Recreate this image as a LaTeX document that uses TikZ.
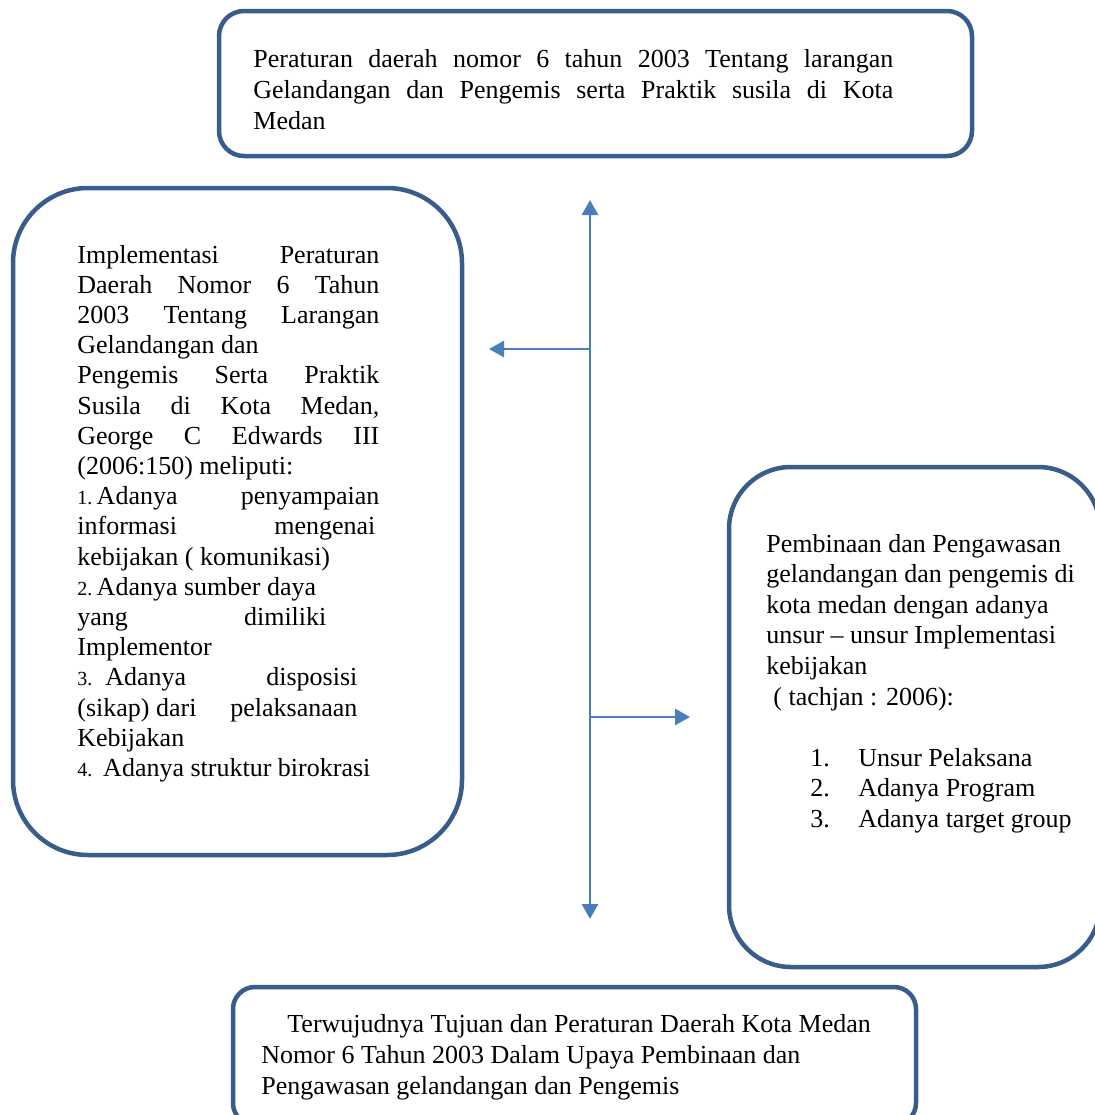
\documentclass[tikz,border=0pt]{standalone}
\usepackage{fontspec}
\setmainfont{Liberation Serif}
\usetikzlibrary{arrows.meta}
\definecolor{boxBlue}{HTML}{385D8A}
\definecolor{arrowBlue}{HTML}{4A7EBB}
\newcommand{\rataLine}[2]{\makebox[#1][s]{#2}}
\newcommand{\angka}[1]{{\fontsize{10}{12}\selectfont #1}}

\begin{document}
\begin{tikzpicture}[x = 0.5pt, y = -0.5pt, font = \fontsize{13}{15.3}\selectfont]
\tikzstyle{boxStyle} = [draw = boxBlue, line width = 2.25pt, shape = rectangle, inner sep = 0pt]
\tikzstyle{textStyle} = [inner sep = 0pt, anchor = base west, execute at begin node = {\spaceskip=0pt\xspaceskip=0pt\relax}]
\tikzstyle{arrowStyle} = [draw = arrowBlue, line width = 1.35pt, arrows = {-Triangle[length = 7.5pt, width = 8pt]}]
\useasboundingbox (0,0) rectangle (1094,1115);
% kotak
\node[boxStyle, rounded corners = 12.5pt, minimum width = 376.5pt, minimum height = 72.5pt] (perda) at (595.5,83.5) {};
\node[boxStyle, rounded corners = 37.5pt, minimum width = 224.5pt, minimum height = 333.5pt] (implementasi) at (237.5,521.5) {};
\node[boxStyle, rounded corners = 31pt, minimum width = 185.5pt, minimum height = 250pt] (pembinaan) at (914.5,717) {};
\node[boxStyle, rounded corners = 11pt, minimum width = 341.5pt, minimum height = 69pt] (tujuan) at (574.5,1056) {};
% teks
\node[textStyle, text width = 320pt, font = \fontsize{13}{15.5}\selectfont] (perdaText) at (253,67) {%
\rataLine{320pt}{Peraturan daerah nomor 6 tahun 2003 Tentang larangan}\\
\rataLine{320pt}{Gelandangan dan Pengemis serta Praktik susila di Kota}\\
Medan};
\node[textStyle, text width = 151pt, font = \fontsize{13}{15.1}\selectfont] (implementasiText) at (77,263) {%
\rataLine{151pt}{Implementasi Peraturan}\\
\rataLine{151pt}{Daerah Nomor 6 Tahun}\\
\rataLine{151pt}{2003 Tentang Larangan}\\
Gelandangan dan\\
\rataLine{151pt}{Pengemis Serta Praktik}\\
\rataLine{151pt}{Susila di Kota Medan,}\\
\rataLine{151pt}{George C Edwards III}\\
(2006:150) meliputi:\\
\rataLine{151pt}{\angka{1.}\,Adanya\hfill penyampaian}\\
\rataLine{149pt}{informasi mengenai}\\
kebijakan ( komunikasi)\\
\angka{2.}\,Adanya sumber daya\\
\rataLine{124.5pt}{yang dimiliki}\\
Implementor\\
\rataLine{140pt}{\angka{3.}\ \ Adanya\hfill disposisi}\\
\rataLine{140pt}{(sikap)\ dari\hfill pelaksanaan}\\
Kebijakan\\
\mbox{\angka{4.}\ \,Adanya struktur birokrasi}};
\node[textStyle, text width = 165pt] (pembinaanText) at (766,552) {%
Pembinaan dan Pengawasan\\
gelandangan dan pengemis di\\
kota medan dengan adanya\\
unsur -- unsur Implementasi\\
kebijakan\\
\hspace*{3.5pt}( tachjan : 2006):\\[15.3pt]
\hspace*{22pt}\makebox[24pt][l]{1.}Unsur Pelaksana\\
\hspace*{22pt}\makebox[24pt][l]{2.}Adanya Program\\
\hspace*{22pt}\makebox[24pt][l]{3.}Adanya target group};
\node[textStyle, text width = 330pt, font = \fontsize{13}{15.5}\selectfont] (tujuanText) at (261,1032) {%
\hspace*{13pt}Terwujudnya Tujuan dan Peraturan Daerah Kota Medan\\
Nomor 6 Tahun 2003 Dalam Upaya Pembinaan dan\\
Pengawasan gelandangan dan Pengemis};
% panah
\coordinate (atas) at (590,200);
\coordinate (bawah) at (590,919);
\coordinate (simpangKiri) at (590,349);
\coordinate (simpangKanan) at (590,717);
\coordinate (ujungKiri) at (489,349);
\coordinate (ujungKanan) at (690,717);
\draw[arrowStyle] (simpangKiri) -- (atas);
\draw[arrowStyle] (simpangKiri) -- (bawah);
\draw[arrowStyle] (simpangKiri) -- (ujungKiri);
\draw[arrowStyle] (simpangKanan) -- (ujungKanan);
\end{tikzpicture}
\end{document}
